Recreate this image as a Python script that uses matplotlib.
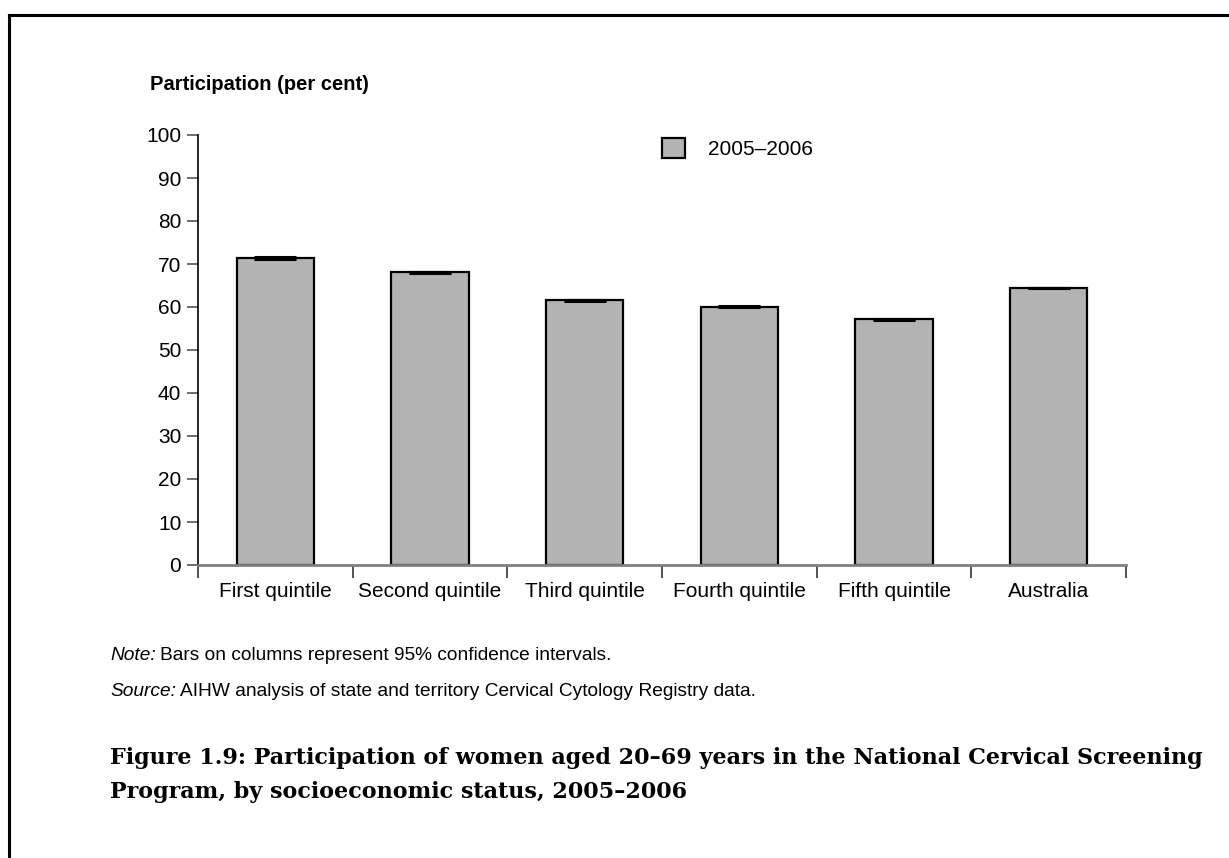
import numpy as np
import matplotlib
matplotlib.use("Agg")
import matplotlib.pyplot as plt
from matplotlib.lines import Line2D

plt.rcParams['font.family'] = ['Liberation Sans', 'DejaVu Sans']

# data
categories = ['First quintile', 'Second quintile', 'Third quintile',
              'Fourth quintile', 'Fifth quintile', 'Australia']
participation = [71.4, 68.1, 61.6, 60.1, 57.1, 64.4]
ci_half = [0.15, 0.1, 0.12, 0.12, 0.1, 0.08]
series_label = '2005\u20132006'

W, H = 1229, 858
fig = plt.figure(figsize=(W / 100, H / 100), dpi=100)
ax = fig.add_axes([198 / W, 1 - 565 / H, 928 / W, 430 / H])

x = np.arange(len(categories))
ax.bar(x, participation, width=0.5, color='#b3b3b3', edgecolor='black',
       linewidth=1.6, label=series_label, zorder=2)
ax.errorbar(x, participation, yerr=ci_half, fmt='none', ecolor='black',
            elinewidth=1.5, capsize=15, capthick=2.2, zorder=3)

ax.set_xlim(-0.5, len(categories) - 0.5)
ax.set_ylim(0, 100)
ax.set_yticks(np.arange(0, 101, 10))
ax.set_xticks(x)
ax.set_xticklabels(categories)
ax.set_xticks(np.arange(-0.5, len(categories)), minor=True)
ax.tick_params(axis='x', which='major', length=0, pad=12, labelsize=15)
ax.tick_params(axis='x', which='minor', length=9, width=1.2, color='#333333')
ax.tick_params(axis='y', length=8, width=1.2, color='#555555', labelsize=15, pad=4)

for s in ['top', 'right']:
    ax.spines[s].set_visible(False)
ax.spines['left'].set_linewidth(1.2)
ax.spines['bottom'].set_color('#808080')
ax.spines['bottom'].set_linewidth(2)

ax.legend(loc='upper left', bbox_to_anchor=(0.48, 1.037), frameon=False,
          handlelength=1.1, handleheight=1.1, fontsize=15, handletextpad=1.1)

fig.text(150 / W, 1 - 85 / H, 'Participation (per cent)', fontsize=14.5,
         fontweight='bold', va='center', ha='left')


def footnote(y, lead, rest):
    t = fig.text(110 / W, 1 - y / H, lead, fontsize=13.8, style='italic', va='center')
    fig.canvas.draw()
    bb = t.get_window_extent()
    fig.text(bb.x1 / W + 4 / W, 1 - y / H, rest, fontsize=13.8, va='center')


footnote(655, 'Note:', 'Bars on columns represent 95% confidence intervals.')
footnote(692, 'Source:', 'AIHW analysis of state and territory Cervical Cytology Registry data.')

fig.text(110 / W, 1 - 758 / H,
         'Figure 1.9: Participation of women aged 20\u201369 years in the National Cervical Screening',
         fontsize=16, fontweight='bold', family='DejaVu Serif', va='center')
fig.text(110 / W, 1 - 792 / H,
         'Program, by socioeconomic status, 2005\u20132006',
         fontsize=16, fontweight='bold', family='DejaVu Serif', va='center')

# page frame
fig.add_artist(Line2D([9 / W, 9 / W], [0, 1 - 15 / H], color='black',
                      linewidth=2.2, transform=fig.transFigure))
fig.add_artist(Line2D([9 / W, 1], [1 - 15 / H, 1 - 15 / H], color='black',
                      linewidth=2.2, transform=fig.transFigure))

fig.savefig('out.png', dpi=100)
